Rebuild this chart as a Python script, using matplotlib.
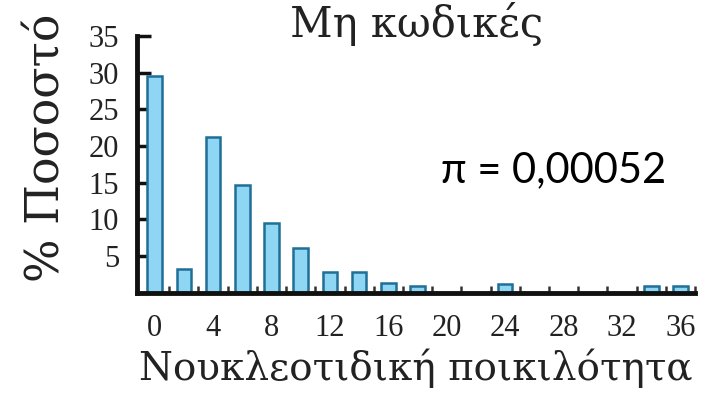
import matplotlib
matplotlib.use("Agg")
import matplotlib.pyplot as plt
from matplotlib.ticker import FixedLocator

# distribution of pairwise nucleotide differences, non-coding regions
differences = [0, 2, 4, 6, 8, 10, 12, 14, 16, 18, 24, 34, 36]
percent = [29.5, 3.2, 21.2, 14.7, 9.5, 6.1, 2.9, 2.9, 1.3, 1.0, 1.2, 1.0, 1.0]

x_ticks = [0, 4, 8, 12, 16, 20, 24, 28, 32, 36]
y_ticks = [5, 10, 15, 20, 25, 30, 35]

title = "Μη κωδικές"
x_label = "Νουκλεοτιδική ποικιλότητα"
y_label = "% Ποσοστό"
pi_text = "π = 0,00052"

serif = ["Liberation Serif", "DejaVu Serif"]
wide_serif = ["DejaVu Serif"]

fig = plt.figure(figsize=(7.18, 3.98), dpi=100)
ax = fig.add_axes([0.191, 0.264, 0.777, 0.646])

ax.bar(differences, percent, width=1.0, color="#8fd5f4",
       edgecolor="#1f6f96", linewidth=1.8, zorder=2)

ax.set_xlim(-1.2, 37)
ax.set_ylim(0, 35)

for side in ("top", "right"):
    ax.spines[side].set_visible(False)
for side in ("left", "bottom"):
    ax.spines[side].set_linewidth(3.5)
    ax.spines[side].set_color("#111111")
    ax.spines[side].set_zorder(3)
ax.spines["left"].set_bounds(0, 35)

ax.set_yticks(y_ticks)
ax.set_yticklabels([str(v) for v in y_ticks], family=serif, fontsize=22,
                   color="#222222")
ax.tick_params(axis="y", direction="in", length=10, width=2.5,
               color="#111111", pad=13)

ax.set_xticks(x_ticks)
ax.set_xticklabels([str(v) for v in x_ticks], family=serif, fontsize=22,
                   color="#222222")
ax.xaxis.set_minor_locator(FixedLocator(list(range(1, 38, 2))))
ax.tick_params(axis="x", which="major", length=0, pad=15)
ax.tick_params(axis="x", which="minor", direction="in", length=5, width=1.8,
               color="#333333")

ax.set_xlabel(x_label, family=wide_serif, fontsize=28, labelpad=4,
              color="#222222")
# y label sits a little above the axes centre
fig.text(47 / 718, 1 - 148 / 398, y_label, rotation=90, ha="center",
         va="center", family=wide_serif, fontsize=33, color="#222222")

ax.text(0.5, 0.996, title, transform=ax.transAxes, ha="center",
        va="baseline", family=wide_serif, fontsize=30, color="#222222")
ax.text(0.747, 0.432, pi_text, transform=ax.transAxes, ha="center",
        va="baseline", family=["Lato", "DejaVu Sans"], fontsize=30,
        color="black")

fig.savefig("out.png", dpi=100)
